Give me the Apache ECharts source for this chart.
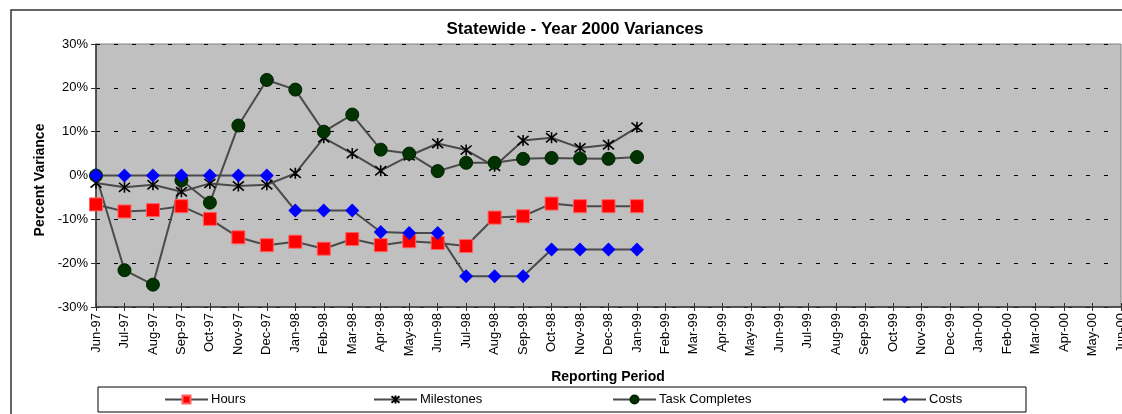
<!DOCTYPE html>
<html>
<head>
<meta charset="utf-8">
<script src="https://cdn.jsdelivr.net/npm/echarts@6/dist/echarts.min.js"></script>
<style>
  html, body { margin: 0; padding: 0; background: #fff; }
  #chart { width: 1122px; height: 414px; }
</style>
</head>
<body>
<div id="chart"></div>
<script>
// reporting periods, Jun-97 .. Jun-00
var months = ['Jun-97', 'Jul-97', 'Aug-97', 'Sep-97', 'Oct-97', 'Nov-97', 'Dec-97',
    'Jan-98', 'Feb-98', 'Mar-98', 'Apr-98', 'May-98', 'Jun-98', 'Jul-98', 'Aug-98',
    'Sep-98', 'Oct-98', 'Nov-98', 'Dec-98', 'Jan-99', 'Feb-99', 'Mar-99', 'Apr-99',
    'May-99', 'Jun-99', 'Jul-99', 'Aug-99', 'Sep-99', 'Oct-99', 'Nov-99', 'Dec-99',
    'Jan-00', 'Feb-00', 'Mar-00', 'Apr-00', 'May-00', 'Jun-00'];

// percent variance, Jun-97 .. Jan-99
var hours = [-6.6, -8.2, -7.9, -7.0, -9.9, -14.1, -15.9, -15.1, -16.7, -14.5,
    -15.9, -15.0, -15.4, -16.1, -9.6, -9.3, -6.4, -7.0, -7.0, -7.0];
var milestones = [-1.7, -2.7, -2.1, -3.7, -1.8, -2.4, -2.1, 0.5, 8.6, 5.0,
    1.1, 4.5, 7.3, 5.8, 2.1, 8.0, 8.6, 6.3, 7.0, 11.0];
var taskCompletes = [0, -21.6, -24.9, -1.1, -6.2, 11.4, 21.8, 19.6, 10.0, 13.9,
    5.9, 5.0, 1.0, 2.9, 2.9, 3.8, 4.0, 3.9, 3.8, 4.2];
var costs = [0, 0, 0, 0, 0, 0, 0, -8.0, -8.0, -8.0,
    -12.9, -13.1, -13.1, -23.0, -23.0, -23.0, -16.9, -16.9, -16.9, -16.9];

var yTicks = [-30, -20, -10, 0, 10, 20, 30];

var font = 'Liberation Sans, Arial, sans-serif';
var lineColor = '#4a4a4a';
var star = 'path://M0,0L10,10M10,0L0,10M5,-1L5,11';

var myChart = echarts.init(document.getElementById('chart'));

function makeSeries(name, data, symbol, size, item) {
    return {
        name: name,
        type: 'line',
        data: data,
        xAxisIndex: 0,
        symbol: symbol,
        symbolSize: size,
        showAllSymbol: true,
        lineStyle: { color: lineColor, width: 2 },
        itemStyle: item,
        emphasis: { disabled: true },
        animation: false
    };
}

function legendAt(name, left) {
    return {
        data: [name],
        left: left,
        top: 393,
        itemWidth: 43,
        itemHeight: 10,
        padding: 0,
        textStyle: { fontFamily: font, fontSize: 13, color: '#000', padding: [0, 0, 0, -2] }
    };
}

var option = {
    backgroundColor: '#fff',
    animation: false,
    title: {
        text: 'Statewide - Year 2000 Variances',
        left: 570,
        top: 16,
        textAlign: 'center',
        textStyle: { fontFamily: font, fontSize: 17, fontWeight: 'bold', color: '#000' }
    },
    legend: [
        legendAt('Hours', 164),
        legendAt('Milestones', 373),
        legendAt('Task Completes', 612),
        legendAt('Costs', 882)
    ],
    graphic: [
        {
            type: 'rect',
            shape: { x: 11, y: 10, width: 1200, height: 500 },
            style: { fill: 'none', stroke: '#333', lineWidth: 1.5 },
            silent: true
        },
        {
            type: 'rect',
            shape: { x: 98, y: 387, width: 928, height: 25 },
            style: { fill: 'none', stroke: '#000', lineWidth: 1 },
            silent: true
        },
        {
            type: 'text',
            rotation: Math.PI / 2,
            x: 40, y: 180,
            style: {
                text: 'Percent Variance',
                textAlign: 'center',
                textVerticalAlign: 'middle',
                font: 'bold 14px ' + font,
                fill: '#000'
            },
            silent: true
        },
        {
            type: 'text',
            x: 608, y: 377,
            style: {
                text: 'Reporting Period',
                textAlign: 'center',
                textVerticalAlign: 'middle',
                font: 'bold 14px ' + font,
                fill: '#000'
            },
            silent: true
        }
    ],
    grid: {
        left: 96,
        right: 1,
        top: 44,
        bottom: 107,
        outerBoundsMode: 'none',
        containLabel: false,
        show: true,
        backgroundColor: '#C0C0C0',
        borderColor: '#808080',
        borderWidth: 1
    },
    xAxis: [
        {
            type: 'category',
            data: months,
            position: 'bottom',
            boundaryGap: false,
            axisLine: { show: false },
            axisTick: { show: false },
            axisLabel: {
                rotate: 90,
                interval: 0,
                margin: 6,
                fontFamily: font,
                fontSize: 13,
                color: '#000'
            },
            splitLine: { show: false }
        },
        {
            type: 'category',
            data: months,
            position: 'bottom',
            boundaryGap: false,
            axisLine: { show: true, onZero: true, lineStyle: { color: '#333', width: 1.5 } },
            axisTick: { show: true, inside: true, interval: 0, length: 4, lineStyle: { color: '#333', width: 1 } },
            axisLabel: { show: false },
            splitLine: { show: false }
        },
        {
            type: 'category',
            data: months,
            position: 'bottom',
            boundaryGap: false,
            axisLine: { show: false, onZero: true },
            axisTick: { show: true, inside: false, interval: 0, length: 4, lineStyle: { color: '#333', width: 1 } },
            axisLabel: { show: false },
            splitLine: { show: false }
        }
    ],
    yAxis: {
        type: 'value',
        min: yTicks[0],
        max: yTicks[yTicks.length - 1],
        interval: 10,
        axisLine: { show: true, lineStyle: { color: '#333', width: 1.5 } },
        axisTick: { show: true, length: 5, lineStyle: { color: '#333' } },
        axisLabel: {
            formatter: '{value}%',
            margin: 8,
            fontFamily: font,
            fontSize: 13,
            color: '#000'
        },
        splitLine: { show: true, lineStyle: { color: '#000', type: [4, 14], width: 1 } }
    },
    series: [
        makeSeries('Hours', hours, 'rect', 13, { color: '#FF0000', borderColor: '#FF6060', borderWidth: 1 }),
        makeSeries('Milestones', milestones, star, 11, { color: 'none', borderColor: '#000', borderWidth: 1.6 }),
        makeSeries('Task Completes', taskCompletes, 'circle', 13, { color: '#003300', borderColor: '#002200', borderWidth: 1 }),
        makeSeries('Costs', costs, 'diamond', 14, { color: '#0000FF', borderColor: '#0000FF', borderWidth: 0 })
    ]
};

option && myChart.setOption(option);
</script>
</body>
</html>
